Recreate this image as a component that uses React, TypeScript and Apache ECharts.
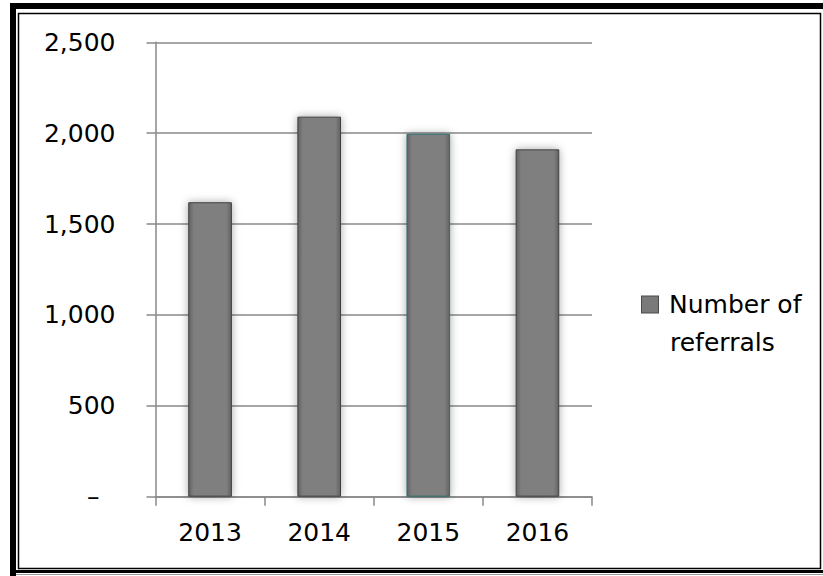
import React, { useEffect, useRef } from "react";
import * as echarts from "echarts";

const years = ["2013", "2014", "2015", "2016"];
const referrals = [1620, 2091, 1997, 1911];
const seriesName = "Number of referrals";
const yTicks = [0, 500, 1000, 1500, 2000, 2500];

const FONT = "DejaVu Sans";
const FS = 25;

export default function App() {
  const ref = useRef<HTMLDivElement>(null);

  useEffect(() => {
    if (!ref.current) return;
    const chart = echarts.init(ref.current, null, { renderer: "svg" });
    const barGradient = new echarts.graphic.LinearGradient(0, 0, 1, 0, [
      { offset: 0, color: "#626262" },
      { offset: 0.12, color: "#7f7f7f" },
      { offset: 0.88, color: "#7f7f7f" },
      { offset: 1, color: "#626262" },
    ]);
    chart.setOption({
      animation: false,
      backgroundColor: "#ffffff",
      grid: { left: 155.5, right: 231, top: 42.3, bottom: 79.3, containLabel: false },
      legend: {
        show: true,
        left: 637,
        top: 292,
        padding: 0,
        orient: "vertical",
        icon: "none",
        itemWidth: 0,
        itemGap: 0,
        data: [seriesName],
        formatter: () => "{box|}{t|Number of}\n{sp|}{t|referrals}",
        textStyle: {
          align: "left",
          rich: {
            box: {
              width: 16,
              height: 16,
              backgroundColor: "#7a7a7a",
              borderColor: "#4a4a4a",
              borderWidth: 1,
              align: "left",
            },
            sp: { width: 17, align: "left" },
            t: {
              fontFamily: FONT,
              fontSize: FS,
              color: "#000",
              lineHeight: 38,
              padding: [0, 0, 0, 11],
              align: "left",
            },
          },
        },
      },
      xAxis: {
        type: "category",
        data: years,
        boundaryGap: true,
        axisLine: { show: true, lineStyle: { color: "#888888", width: 1.5 } },
        axisTick: { show: true, length: 9, inside: false, lineStyle: { color: "#888888", width: 1.5 } },
        axisLabel: { fontFamily: FONT, fontSize: FS, color: "#000", margin: 23 },
      },
      yAxis: {
        type: "value",
        min: yTicks[0],
        max: yTicks[yTicks.length - 1],
        interval: 500,
        axisLine: { show: true, lineStyle: { color: "#888888", width: 1.5 } },
        axisTick: { show: true, length: 9, lineStyle: { color: "#888888", width: 1.5 } },
        splitLine: { show: true, lineStyle: { color: "#888888", width: 1.5 } },
        axisLabel: {
          fontFamily: FONT,
          fontSize: FS,
          color: "#000",
          margin: 40,
          formatter: (v: number) =>
            v === 0 ? "{d|–}" : v.toLocaleString("en-US"),
          rich: {
            d: { fontFamily: FONT, fontSize: FS, color: "#000", padding: [0, 16, 0, 0] },
          },
        },
      },
      series: [
        {
          name: seriesName,
          type: "bar",
          data: referrals.map((v, i) => ({
            value: v,
            itemStyle: i === 2 ? { borderColor: "#2f6b6b" } : {},
          })),
          barWidth: "40%",
          itemStyle: {
            color: barGradient,
            borderColor: "#404040",
            borderWidth: 1,
            shadowColor: "rgba(0,0,0,0.35)",
            shadowBlur: 8,
          },
        },
      ],
      graphic: [
        { type: "rect", shape: { x: 10, y: 3, width: 6, height: 573 }, style: { fill: "#000" }, z: 100 },
        { type: "rect", shape: { x: 10, y: 3, width: 813, height: 6 }, style: { fill: "#000" }, z: 100 },
        { type: "rect", shape: { x: 10, y: 570, width: 813, height: 3 }, style: { fill: "#000" }, z: 100 },
        { type: "rect", shape: { x: 16, y: 574, width: 807, height: 1 }, style: { fill: "#999" }, z: 100 },
        {
          type: "rect",
          shape: { x: 18.5, y: 13.5, width: 802, height: 555 },
          style: { fill: "none", stroke: "#000", lineWidth: 1.5 },
          z: 100,
        },
      ],
    });
    return () => chart.dispose();
  }, []);

  return <div ref={ref} style={{ width: 823, height: 576, position: "absolute", left: 0, top: 0 }} />;
}
